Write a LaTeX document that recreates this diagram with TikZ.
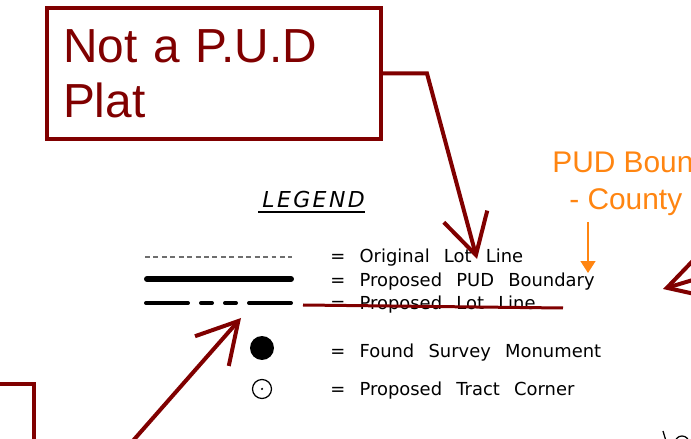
\documentclass[tikz,border=0pt]{standalone}
\usepackage{fontspec}
\usepackage{xcolor}
\usetikzlibrary{arrows.meta,positioning}
\newfontfamily\notefont{Liberation Sans}
\newfontfamily\cadfont[WordSpace=2.5]{DejaVu Sans}
\newfontfamily\titlefont[LetterSpace=11]{DejaVu Sans Oblique}
\definecolor{PlatRed}{RGB}{128,0,0}
\definecolor{NoteOrange}{RGB}{255,133,17}
\definecolor{LineGray}{RGB}{110,110,110}

\begin{document}
\begin{tikzpicture}[x=0.02cm,y=-0.02cm,
    notebox/.style={draw=PlatRed,line width=0.08cm,text=PlatRed,
                    font=\notefont\fontsize{27.2}{31.2}\selectfont,
                    align=left,text width=6.04cm,inner xsep=0.32cm,
                    minimum height=2.62cm},
    redarr/.style={PlatRed,line width=0.08cm,
                   -{Straight Barb[length=0.8cm,width=0.9cm]}},
    orarr/.style={NoteOrange,line width=0.03cm,
                  -{Triangle[length=0.24cm,width=0.3cm]}},
    lbl/.style={anchor=base west,inner sep=0pt,
                font=\cadfont\fontsize{10.2}{12}\selectfont},
    ortext/.style={anchor=base west,inner sep=0pt,text=NoteOrange,
                   font=\notefont\fontsize{17}{20}\selectfont},
    mark dot/.style={circle,inner sep=0pt}
  ]
  \useasboundingbox (0,0) rectangle (691,439);
  \clip (0,0) rectangle (691,439);

  % note box and its arrow
  \node[notebox] (note) at (214,73.5) {Not a P.U.D\\Plat};
  \coordinate (bend) at (427,73.5);
  \coordinate (tipA) at (477,259);
  \draw[redarr] (note.east) -- (bend) -- (tipA);

  % legend
  \node[anchor=base west,inner sep=0pt,
        font=\titlefont\fontsize{12.5}{14}\selectfont] (title) at (262,208) {LEGEND};
  \draw[line width=0.03cm] ([xshift=-0.08cm,yshift=-0.08cm]title.base west)
    -- ([yshift=-0.08cm]title.base east);

  \draw[LineGray,line width=0.026cm,dash pattern=on 2.8pt off 2pt] (145,257) -- (292,257);
  \draw[line width=0.12cm,line cap=round] (147,279) -- (291,279);
  \draw[line width=0.08cm,line cap=round]
    (146,303) -- (188,303) (201,303) -- (212,303)
    (225,303) -- (236,303) (249,303) -- (291,303);
  \node[mark dot,fill=black,minimum size=0.48cm] (mon) at (262,348) {};
  \node[mark dot,draw=black,line width=0.025cm,minimum size=0.38cm] (tract) at (262,389) {};
  \fill (tract.center) circle (0.025cm);

  \node[lbl] (la) at (330,263) {= Original Lot Line};
  \node[lbl] (lb) at (330,287) {= Proposed PUD Boundary};
  \node[lbl] (lc) at (330,310) {= Proposed Lot Line};
  \node[lbl] (ld) at (330,358) {= Found Survey Monument};
  \node[lbl] (le) at (330,396) {= Proposed Tract Corner};
  \draw[PlatRed,line width=0.06cm] (303,305) -- (563,308);

  % orange remark
  \node[ortext] (pud) at (552,173) {PUD Boun};
  \node[ortext] (cnty) at (569,210) {- County};
  \coordinate (otop) at (588,222);
  \coordinate (otip) at (588,273);
  \draw[orarr] (otop) -- (otip);

  % lower left box and arrows running off the sheet
  \draw[PlatRed,line width=0.08cm] (-20,384) -- (34,384) -- (34,460);
  \coordinate (tailB) at (109,468);
  \coordinate (tipB) at (241,318);
  \draw[redarr] (tailB) -- (tipB);
  \coordinate (tailC) at (759,260);
  \coordinate (tipC) at (663,289);
  \draw[redarr] (tailC) -- (tipC);

  % fragment at lower right
  \draw[line width=0.025cm] (663,431) -- (666,441);
  \draw[line width=0.025cm] (682,443) circle (0.14cm);
\end{tikzpicture}
\end{document}
